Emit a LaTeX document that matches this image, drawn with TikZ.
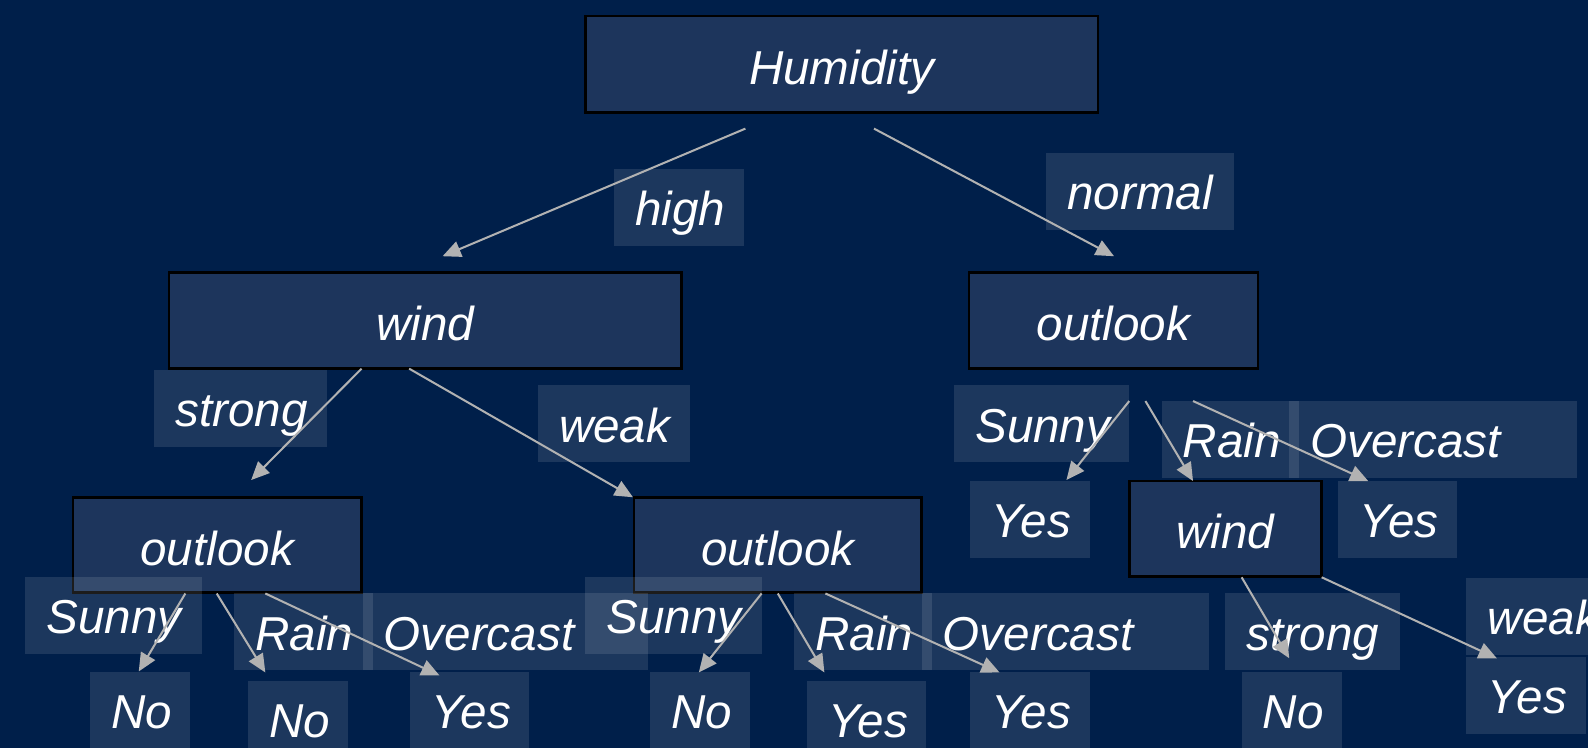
\documentclass[tikz,border=0pt]{standalone}
\usepackage{fontspec}
\setmainfont{Liberation Sans}
\usetikzlibrary{arrows.meta}
\definecolor{bg}{RGB}{0,31,74}
\definecolor{boxfill}{RGB}{29,53,92}
\definecolor{arrowgray}{RGB}{178,178,178}
\begin{document}
\begin{tikzpicture}[x=1pt,y=-1pt,
  txt/.style={text=white, font=\fontsize{47}{56}\selectfont\itshape},
  dec/.style={txt, draw=black, line width=2.5pt, fill=boxfill, inner sep=0pt,
    text height=40pt, text depth=0pt},
  lab/.style={txt, fill=white, fill opacity=0.11, text opacity=1,
    inner xsep=21pt, inner ysep=0pt, align=left,
    text height=36pt, text depth=0pt, minimum height=76pt},
  arr/.style={draw=arrowgray, line width=2pt, -{Triangle[length=18pt,width=16pt]}}]

% background and page size
\fill[bg] (0,0) rectangle (1568,739);
\useasboundingbox (0,0) rectangle (1568,739);

% decision nodes
\node[dec, minimum width=506pt, minimum height=95pt] (hum) at (831,63.5) {Humidity};
\node[dec, minimum width=506pt, minimum height=95pt] (wl) at (420,316.5) {wind};
\node[dec, minimum width=285pt, minimum height=95pt] (or) at (1099.5,316.5) {outlook};
\node[dec, minimum width=285pt, minimum height=94pt] (ol) at (214.5,538) {outlook};
\node[dec, minimum width=284pt, minimum height=94pt] (om) at (768,538) {outlook};
\node[dec, minimum width=190pt, minimum height=94pt] (wr) at (1210,522) {wind};

% branch labels and leaves
\node[lab, text width=87pt]  (high)   at (670.5,205)  {high};
\node[lab, text width=143pt] (normal) at (1125.5,189) {normal};
\node[lab, text width=129pt] (strL)   at (237.5,403)  {strong};
\node[lab, text width=108pt] (weakL)  at (606,418.5)  {weak};

\node[lab, text width=131pt] (sunR)   at (1028.5,418.5) {Sunny};
\node[lab, text width=94pt]  (rainR)  at (1215,434)     {Rain};
\node[lab, text width=242pt] (overR)  at (1415,434)     {Overcast};
\node[lab, text width=76pt]  (yesR1)  at (1017,513)     {Yes};
\node[lab, text width=76pt]  (yesR2)  at (1380,513)     {Yes};
\node[lab, text width=130pt] (strR)   at (1296,624)     {strong};
\node[lab, text width=130pt] (weakR)  at (1534,608.5)   {weak};
\node[lab, text width=57pt]  (noR)    at (1275.5,701.5) {No};
\node[lab, text width=76pt]  (yesR3)  at (1507,686.5)   {Yes};

\node[lab, text width=132pt] (sunL)   at (112,608)      {Sunny};
\node[lab, text width=95pt]  (rainL)  at (299.5,624)    {Rain};
\node[lab, text width=240pt] (overL)  at (499,624)      {Overcast};
\node[lab, text width=57pt]  (noL1)   at (138.5,701.5)  {No};
\node[lab, text width=57pt]  (noL2)   at (294.5,710)    {No};
\node[lab, text width=75pt]  (yesL)   at (463.5,701.5)  {Yes};

\node[lab, text width=132pt] (sunM)   at (665,608)      {Sunny};
\node[lab, text width=94pt]  (rainM)  at (852,624)      {Rain};
\node[lab, text width=242pt] (overM)  at (1052,624)     {Overcast};
\node[lab, text width=57pt]  (noM)    at (691.5,701.5)  {No};
\node[lab, text width=75pt]  (yesM1)  at (855.5,710)    {Yes};
\node[lab, text width=76pt]  (yesM2)  at (1017,701.5)   {Yes};

% connector end points
\coordinate (a1s) at (736,127);   \coordinate (a1e) at (437,253);
\coordinate (a2s) at (863,127);   \coordinate (a2e) at (1100,253);
\coordinate (a3s) at (357,364);   \coordinate (a3e) at (248,474);
\coordinate (a4s) at (404,364);   \coordinate (a4e) at (625,491);
\coordinate (a5s) at (1115,396);  \coordinate (a5e) at (1053,474);
\coordinate (a6s) at (1131,396);  \coordinate (a6e) at (1178,475);
\coordinate (a7s) at (1178,396);  \coordinate (a7e) at (1351,475);
\coordinate (a8s) at (183,586);   \coordinate (a8e) at (137,663);
\coordinate (a9s) at (214,586);   \coordinate (a9e) at (262,664);
\coordinate (a10s) at (262,586);  \coordinate (a10e) at (434,667);
\coordinate (a11s) at (752,586);  \coordinate (a11e) at (690,664);
\coordinate (a12s) at (768,586);  \coordinate (a12e) at (814,664);
\coordinate (a13s) at (815,586);  \coordinate (a13e) at (987,664);
\coordinate (a14s) at (1226,570); \coordinate (a14e) at (1273,650);
\coordinate (a15s) at (1305,570); \coordinate (a15e) at (1478,650);

% connectors
\foreach \i in {1,...,15} \draw[arr] (a\i s) -- (a\i e);
\end{tikzpicture}
\end{document}
